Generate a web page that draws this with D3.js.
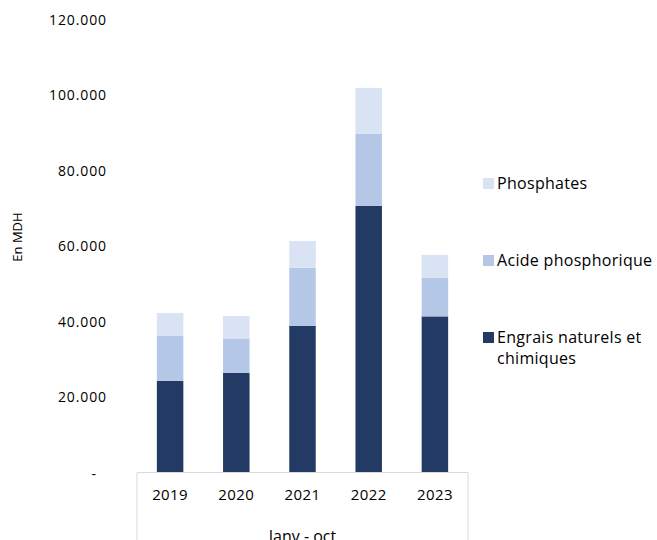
<!DOCTYPE html>
<html><head><meta charset="utf-8">
<script src="https://cdn.jsdelivr.net/npm/d3@7"></script>
<style>body{margin:0;background:#fff}svg{display:block}text{font-family:"Open Sans",sans-serif;fill:#000}</style>
</head><body><svg id="c" width="657" height="540"></svg>
<script>
const categories = ["2019","2020","2021","2022","2023"];
const engrais = [24300, 26400, 38900, 70700, 41400];
const acide = [11900, 9000, 15400, 19100, 10200];
const phosphates = [6100, 6100, 7100, 12200, 6100];
const seriesNames = ["Engrais naturels et chimiques","Acide phosphorique","Phosphates"];
const yTicks = [0,20000,40000,60000,80000,100000,120000];
const groupLabel = "Janv - oct";
const yTitle = "En MDH";

const colors = ["#223A64","#B4C7E7","#DAE3F3"];
const svg = d3.select("#c");
const x0 = 137, x1 = 468, yTop = 20, yBot = 472.5;
const x = d3.scaleBand().domain(categories).range([x0,x1]).paddingInner(0.6).paddingOuter(0.3);
const y = d3.scaleLinear().domain([0,120000]).range([yBot,yTop]);

const data = categories.map((c,i)=>({cat:c, s0:engrais[i], s1:acide[i], s2:phosphates[i]}));
const stack = d3.stack().keys(["s0","s1","s2"])(data);

svg.append("g").selectAll("g").data(stack).join("g").attr("fill",(d,i)=>colors[i])
  .selectAll("rect").data(d=>d).join("rect")
  .attr("x",d=>x(d.data.cat)).attr("width",x.bandwidth())
  .attr("y",d=>y(d[1])).attr("height",d=>y(d[0])-y(d[1]));

// y axis labels
const fmt = v => v===0 ? "-" : d3.format(",")(v).replace(/,/g,".");
const ya = svg.append("g").attr("transform",`translate(107,0)`)
  .call(d3.axisLeft(y).tickValues(yTicks).tickSize(0).tickPadding(0).tickFormat(fmt));
ya.select(".domain").remove();
ya.selectAll("text").style("font-family","'Open Sans',sans-serif").style("font-size","14px")
  .style("letter-spacing","0.9px").attr("fill","#000");
ya.selectAll(".tick").filter(d=>d===0).select("text").attr("dx",-10).attr("dy","0.45em");

// x axis
const xa = svg.append("g").attr("transform",`translate(0,${yBot})`)
  .call(d3.axisBottom(x).tickSize(0).tickPadding(17));
xa.select(".domain").attr("stroke","#D9D9D9").attr("d",`M${x0},0H${x1}`);
xa.selectAll("text").style("font-family","'Open Sans',sans-serif").style("font-size","15px")
  .style("letter-spacing","0.4px").attr("fill","#000");
svg.append("line").attr("x1",x0).attr("x2",x0).attr("y1",yBot).attr("y2",540).attr("stroke","#D9D9D9");
svg.append("line").attr("x1",x1).attr("x2",x1).attr("y1",yBot).attr("y2",540).attr("stroke","#D9D9D9");
svg.append("text").attr("x",(x0+x1)/2).attr("y",542).attr("text-anchor","middle")
  .style("font-size","16px").text(groupLabel);

// y title
svg.append("text").attr("transform","translate(22,237) rotate(-90)").attr("text-anchor","middle")
  .style("font-size","13px").text(yTitle);

// legend
const leg = [{i:2, y:183, lines:["Phosphates"]},{i:1,y:260,lines:["Acide phosphorique"]},{i:0,y:337,lines:["Engrais naturels et","chimiques"]}];
leg.forEach(l=>{
  svg.append("rect").attr("x",483).attr("y",l.y-5).attr("width",11).attr("height",11).attr("fill",colors[l.i]);
  l.lines.forEach((t,k)=>svg.append("text").attr("x",497).attr("y",l.y+k*21).attr("dy","0.35em")
    .style("font-size","16px").style("letter-spacing","0.3px").text(t));
});
</script></body></html>
